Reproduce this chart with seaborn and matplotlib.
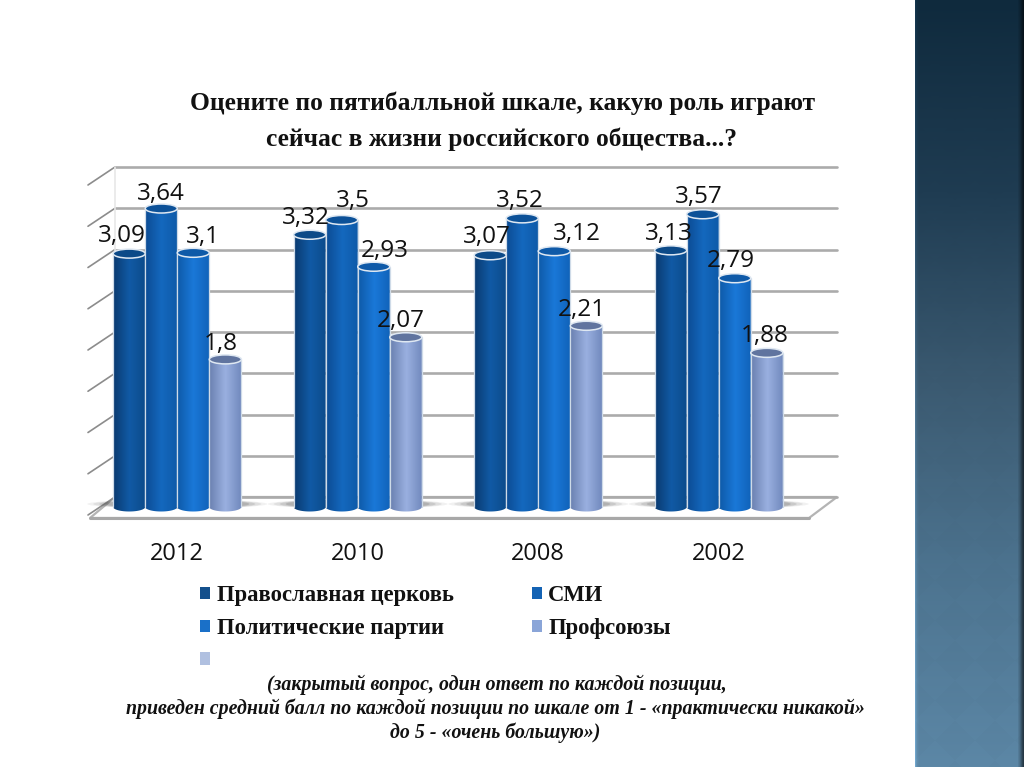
import numpy as np
import pandas as pd
import seaborn as sns
import matplotlib
matplotlib.use("Agg")
import matplotlib.pyplot as plt
from matplotlib.patches import Ellipse, Polygon, Rectangle, PathPatch
from matplotlib.path import Path
from matplotlib.colors import LinearSegmentedColormap, to_rgb

years = ["2012", "2010", "2008", "2002"]
series = ["Православная церковь", "СМИ", "Политические партии", "Профсоюзы"]
church = [3.09, 3.32, 3.07, 3.13]
media = [3.64, 3.5, 3.52, 3.57]
parties = [3.1, 2.93, 3.12, 2.79]
unions = [1.8, 2.07, 2.21, 1.88]
grid_values = [0, 0.5, 1, 1.5, 2, 2.5, 3, 3.5, 4]

title_lines = ["Оцените по пятибалльной шкале, какую роль играют",
               "сейчас в жизни российского общества...?"]
note_lines = [
    "(закрытый вопрос, один ответ по каждой позиции,",
    "приведен средний балл по каждой позиции по шкале от 1 - «практически никакой»",
    "до 5 - «очень большую»)",
]

# side colours of the cylinders: edge, middle, edge
bar_colors = [
    ["#0a3a70", "#115aa5", "#0c4a8a"],
    ["#0c4c94", "#1468be", "#0e5aa8"],
    ["#0e5aa8", "#1a78d8", "#1062b8"],
    ["#6a80b0", "#9ab0e0", "#7088bc"],
]
legend_colors = ["#14508c", "#1463b4", "#1a70c8", "#8aa5d8", "#b0c0e0"]
top_colors = ["#0c4a88", "#0c5198", "#0f5aa8", "#60749f"]

# label nudges in pixels (x, y up) from the top of each bar, one row per year
nudges = [
    [(-7, 18), (0, 15), (10, 16), (-5, 15)],
    [(-4, 17), (11, 19), (11, 16), (-5, 16)],
    [(-3, 18), (-2, 17), (23, 17), (-4, 16)],
    [(-2, 16), (-4, 17), (-4, 17), (-2, 17)],
]

W, H = 1024, 767
px_per_unit = 82
wall_px_per_unit = 82.5
zero_y = 507
floor_front_y = 518
floor_back_y = 497
wall_shift_x = 28
ax_left, ax_right = 87, 809
ax_top = 160

df = pd.DataFrame({"year": years * 4,
                   "series": np.repeat(series, 4),
                   "value": church + media + parties + unions})

sns.set_theme(style="white")
plt.rcParams["font.family"] = ["Open Sans", "DejaVu Sans"]

fig = plt.figure(figsize=(W / 100, H / 100), dpi=100, facecolor="white")

# pixel layer for the slide and the chart walls
bg = fig.add_axes([0, 0, 1, 1], zorder=0)

# right hand panel: vertical gradient, light left rim, dark right rim, faint diamonds
panel_w = W - 915
stops = np.array([to_rgb(c) for c in ["#0f2a3d", "#1f3c52", "#3b5a71", "#4d7490", "#5c87a6"]])
t = np.linspace(0, 1, H)
pos = np.linspace(0, 1, len(stops))
panel = np.stack([np.interp(t, pos, stops[:, k]) for k in range(3)], axis=1)[:, None, :]
panel = np.repeat(panel, panel_w, axis=1)
xx, yy = np.meshgrid(np.arange(panel_w), np.arange(H))
diamonds = ((xx + yy) // 40 + (xx - yy) // 40) % 2
panel = panel * (1 - 0.014 * diamonds * (t[:, None] ** 0.7))[:, :, None]
shade_x = np.ones(panel_w)
shade_x[:4] = [1.25, 1.12, 1.05, 1.02]
shade_x[-6:] = [0.92, 0.85, 0.75, 0.62, 0.5, 0.42]
panel = np.clip(panel * shade_x[None, :, None], 0, 1)
bg.imshow(panel, extent=(915, W, H, 0), aspect="auto", zorder=1)
bg.set_xlim(0, W)
bg.set_ylim(H, 0)
bg.axis("off")

# walls
wall_left = ax_left + wall_shift_x
wall_right = ax_right + wall_shift_x
bg.add_patch(Polygon([(ax_left + 3, floor_front_y), (wall_left, floor_back_y),
                      (wall_right, floor_back_y), (ax_right, floor_front_y)],
                     closed=True, fc="white", ec="#b4b4b4", lw=1.6, zorder=3))
bg.plot([ax_left + 3, ax_right], [floor_front_y, floor_front_y], color="#a8a8a8", lw=2.2, zorder=4)
for v in grid_values:
    y = floor_back_y - v * wall_px_per_unit
    bg.plot([wall_left, wall_right], [y, y], color="#ababab", lw=1.9, zorder=3)
    bg.plot([ax_left + 1, wall_left], [y + 18, y], color="#8c8c8c", lw=1.2, zorder=3)
bg.plot([wall_left, wall_left], [floor_back_y - 4 * wall_px_per_unit, floor_back_y],
        color="#e8e8e8", lw=1.2, zorder=3)

# soft shadows on the floor, around each group
for i in range(len(years)):
    xc = ax_left + (i + 0.5) * (ax_right - ax_left) / 4
    for grow, alpha in zip([90, 84, 78, 72], [0.07, 0.10, 0.14, 0.18]):
        bg.add_patch(Ellipse((xc, zero_y - 3), grow * 2, 9, fc="#444444", ec="none", alpha=alpha, zorder=3.5))

# chart
ax = fig.add_axes([ax_left / W, 1 - floor_front_y / H,
                   (ax_right - ax_left) / W, (floor_front_y - ax_top) / H], zorder=2)
ax.patch.set_alpha(0)
sns.barplot(data=df, x="year", y="value", hue="series", order=years, hue_order=series,
            width=0.71, gap=0, palette=[c[1] for c in bar_colors], legend=False,
            errorbar=None, ax=ax, saturation=1)
ylim = (-(floor_front_y - zero_y) / px_per_unit, (zero_y - ax_top) / px_per_unit)
ax.set_xlabel("")
ax.set_ylabel("")
ax.set_yticks([])
ax.tick_params(axis="x", length=0, labelsize=17, pad=17.5, colors="#111111")
sns.despine(ax=ax, left=True, bottom=True)

# turn the flat bars into cylinders
cap_h = 9 / px_per_unit
theta = np.linspace(np.pi, 2 * np.pi, 30)
for s, container in enumerate(ax.containers):
    cmap = LinearSegmentedColormap.from_list("side", bar_colors[s])
    for i, bar in enumerate(container):
        x0, w, top = bar.get_x(), bar.get_width(), bar.get_height()
        xc = x0 + w / 2
        bar.set_visible(False)
        shade = np.linspace(0, 1, 64).reshape(1, -1)
        body = ax.imshow(shade, extent=(x0, x0 + w, -cap_h, top), aspect="auto", cmap=cmap, zorder=3 + s)
        outline = [(x0, top)] + list(zip(xc + w / 2 * np.cos(theta), cap_h / 2 * np.sin(theta))) + [(x0 + w, top)]
        outline = Path(outline + [outline[0]], closed=True)
        clip = PathPatch(outline, transform=ax.transData, fc="none", ec="none")
        ax.add_patch(clip)
        body.set_clip_path(clip)
        ax.plot([x0, x0], [0, top], color="#cfdbe8", lw=0.9, zorder=3.5 + s)
        ax.plot([x0 + w, x0 + w], [0, top], color="#cfdbe8", lw=0.9, zorder=3.5 + s)
        ax.add_patch(Ellipse((xc, top), w, cap_h, fc=top_colors[s], ec="#dfe8f2", lw=1.1, zorder=3.6 + s))
        label = f"{top:g}".replace(".", ",")
        dx, dy = nudges[i][s]
        ax.annotate(label, (xc, top), xytext=(dx * 0.72, dy * 0.72), textcoords="offset points",
                    ha="center", va="center", fontsize=17.5, color="#111111", zorder=10)
ax.set_xlim(-0.5, 3.5)
ax.set_ylim(*ylim)

# texts
serif = ["Liberation Serif", "DejaVu Serif"]
for line, y in zip(title_lines, [103, 139]):
    fig.text(502 / W, 1 - y / H, line, ha="center", va="center", family=serif,
             fontsize=18.4, fontweight="bold", color="#111111")
for line, y, x in zip(note_lines, [685, 709, 733], [497, 495, 495]):
    fig.text(x / W, 1 - y / H, line, ha="center", va="center", family=serif,
             fontsize=14.3, fontweight="bold", style="italic", color="#111111")

# legend, filled column by column
legend_labels = [series[0], series[2], "", series[1], series[3]]
legend_fill = [legend_colors[0], legend_colors[2], legend_colors[4], legend_colors[1], legend_colors[3]]
handles = [Rectangle((0, 0), 1, 1, fc=c, ec="none") for c in legend_fill]
fig.legend(handles, legend_labels, ncol=2, loc="upper left", bbox_to_anchor=(200 / W, 1 - 585 / H),
           frameon=False, handlelength=0.45, handleheight=0.45, handletextpad=0.28,
           columnspacing=3.45, labelspacing=0.52, borderpad=0, borderaxespad=0,
           prop={"family": serif, "size": 16.3, "weight": "bold"}, labelcolor="#111111")

fig.savefig("out.png", dpi=100)
